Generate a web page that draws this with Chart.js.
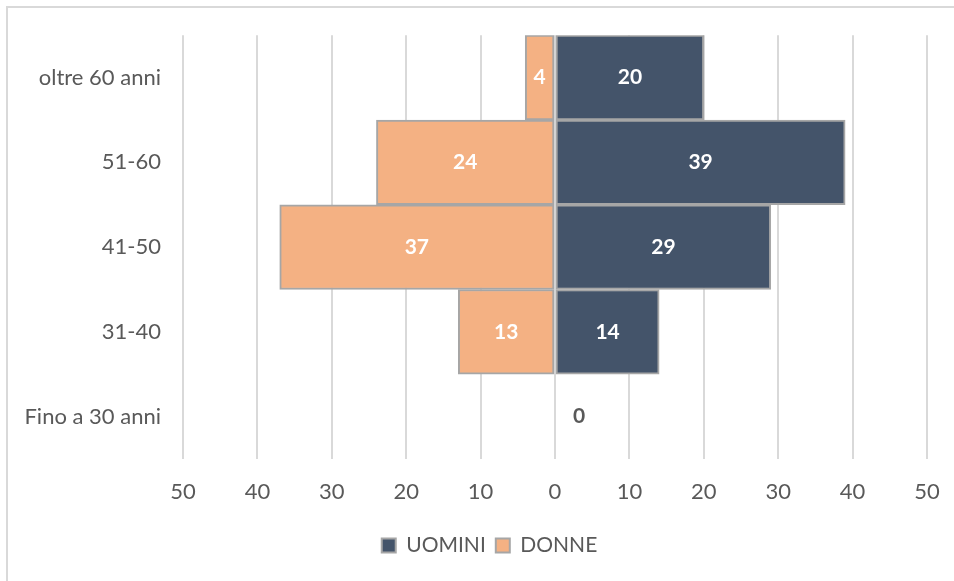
<!DOCTYPE html>
<html>
<head>
<meta charset="utf-8">
<script src="https://cdn.jsdelivr.net/npm/chart.js@4"></script>
<style>
  html, body { margin: 0; padding: 0; background: #fff; overflow: hidden; }
  #wrap { position: relative; width: 954px; height: 581px; overflow: hidden; }
  #frame { position: absolute; left: 6px; top: 6px; width: 1000px; height: 700px; border: 2px solid #d9d9d9; }
  canvas { position: absolute; left: 0; top: 0; }
</style>
</head>
<body>
<div id="wrap">
  <div id="frame"></div>
  <canvas id="myChart" width="954" height="581"></canvas>
</div>
<script>
// fasce d'età, dall'alto in basso
const categories = ['oltre 60 anni', '51-60', '41-50', '31-40', 'Fino a 30 anni'];
const uomini = [20, 39, 29, 14, 0];
const donne = [4, 24, 37, 13, 0];
const xTicks = [-50, -40, -30, -20, -10, 0, 10, 20, 30, 40, 50];

const fontFamily = 'Lato, "Open Sans", sans-serif';

// etichette dentro le barre
const barLabels = {
    id: 'barLabels',
    afterDatasetsDraw(chart) {
        const ctx = chart.ctx;
        ctx.save();
        ctx.font = 'bold 21px ' + fontFamily;
        ctx.textBaseline = 'middle';
        ctx.textAlign = 'center';
        chart.data.datasets.forEach(function (ds, i) {
            const meta = chart.getDatasetMeta(i);
            meta.data.forEach(function (bar, j) {
                const v = ds.realValues[j];
                if (v === 0) {
                    if (ds.label !== 'UOMINI') return;
                    ctx.fillStyle = '#595959';
                    ctx.fillText('0', bar.base + 24, bar.y);
                    return;
                }
                ctx.fillStyle = '#ffffff';
                ctx.fillText(String(v), (bar.x + bar.base) / 2, bar.y);
            });
        });
        ctx.restore();
    }
};

// sposta un po' la legenda a destra, come nell'originale
const legendShift = {
    id: 'legendShift',
    afterLayout(chart) {
        if (chart.legend) {
            chart.legend.left += 22;
            chart.legend.right += 22;
        }
    }
};

const ctx = document.getElementById('myChart').getContext('2d');
const myChart = new Chart(ctx, {
    type: 'bar',
    data: {
        labels: categories,
        datasets: [
            {
                label: 'UOMINI',
                data: uomini,
                realValues: uomini,
                backgroundColor: '#44546a',
                borderColor: '#a6a6a6',
                borderWidth: 2,
                borderSkipped: false
            },
            {
                label: 'DONNE',
                data: donne.map(function (v) { return -v; }),
                realValues: donne,
                backgroundColor: '#f4b183',
                borderColor: '#a6a6a6',
                borderWidth: 2,
                borderSkipped: false
            }
        ]
    },
    options: {
        indexAxis: 'y',
        responsive: false,
        animation: false,
        layout: { padding: { left: 8, top: 35, right: 27, bottom: 15 } },
        scales: {
            x: {
                stacked: true,
                min: -50,
                max: 50,
                afterBuildTicks: function (scale) {
                    scale.ticks = xTicks.map(function (v) { return { value: v }; });
                },
                afterFit: function (scale) {
                    scale.height = 66;
                    scale.paddingLeft = 0;
                    scale.paddingRight = 0;
                },
                border: { display: false },
                grid: { color: '#d9d9d9', lineWidth: 2, drawTicks: false },
                ticks: {
                    padding: 20,
                    color: '#595959',
                    font: { family: fontFamily, size: 22 },
                    callback: function (v) { return Math.abs(v); }
                }
            },
            y: {
                stacked: true,
                afterFit: function (scale) { scale.width = 175; },
                border: { display: false },
                grid: { display: false, drawTicks: false },
                ticks: {
                    padding: 22,
                    color: '#595959',
                    font: { family: fontFamily, size: 22 }
                }
            }
        },
        datasets: { bar: { barPercentage: 1, categoryPercentage: 1 } },
        plugins: {
            tooltip: { enabled: false },
            legend: {
                position: 'bottom',
                labels: {
                    boxWidth: 14,
                    boxHeight: 14,
                    padding: 10,
                    color: '#595959',
                    font: { family: fontFamily, size: 21 }
                }
            }
        }
    },
    plugins: [barLabels, legendShift]
});
</script>
</body>
</html>
